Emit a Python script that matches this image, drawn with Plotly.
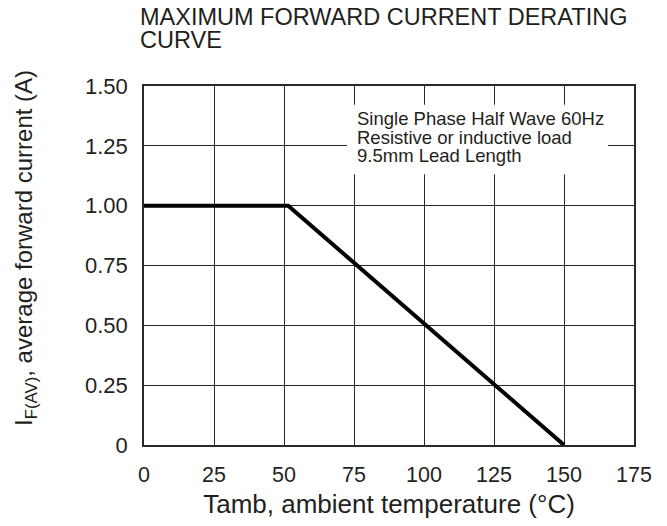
import plotly.graph_objects as go

# Data
temperature = [0, 51.5, 150]          # Tamb (°C)
current = [1.0, 1.0, 0.0]             # IF(AV) (A)
x_ticks = [0, 25, 50, 75, 100, 125, 150, 175]
x_tick_labels = ["0", "25", "50", "75", "100", "125", "150", "175"]
y_ticks = [0, 0.25, 0.5, 0.75, 1.0, 1.25, 1.5]
y_tick_labels = ["0", "0.25", "0.50", "0.75", "1.00", "1.25", "1.50"]
note_lines = ["Single Phase Half Wave 60Hz", "Resistive or inductive load", "9.5mm Lead Length"]
title_lines = ["MAXIMUM FORWARD CURRENT DERATING", "CURVE"]

TXT = "#231f20"
GRID = "#2a2a2a"
FONT = "Liberation Sans, Arial, Helvetica, sans-serif"

fig = go.Figure()
fig.add_trace(go.Scatter(x=temperature, y=current, mode="lines",
                         line=dict(color="black", width=4), hoverinfo="skip",
                         showlegend=False))

fig.update_layout(
    width=667, height=526,
    margin=dict(l=144, r=33, t=86, b=78),
    paper_bgcolor="white", plot_bgcolor="white",
    font=dict(family=FONT, color=TXT),
    showlegend=False,
)
fig.update_xaxes(range=[0, 175], tickvals=x_ticks, ticktext=x_tick_labels,
                 showgrid=True, gridcolor=GRID, gridwidth=1.3,
                 showline=True, mirror=True, linecolor=GRID, linewidth=1.5,
                 zeroline=False, ticks="", tickfont=dict(size=21.5, color=TXT),
                 ticklabelstandoff=9,
                 title=dict(text="Tamb, ambient temperature (°C)",
                            font=dict(size=26, color=TXT), standoff=9))
fig.update_yaxes(range=[0, 1.5], tickvals=y_ticks, ticktext=y_tick_labels,
                 showgrid=True, gridcolor=GRID, gridwidth=1.3,
                 showline=True, mirror=True, linecolor=GRID, linewidth=1.5,
                 zeroline=False, ticks="", tickfont=dict(size=22, color=TXT),
                 ticklabelstandoff=10)

# white box behind the note (covers gridlines)
fig.add_shape(type="rect", xref="x", yref="y", x0=72.5, x1=165.7, y0=1.131, y1=1.4215,
              fillcolor="white", line=dict(width=0), layer="between")

note_y = [1.3635, 1.285, 1.208]
for txt, yy in zip(note_lines, note_y):
    fig.add_annotation(x=75.2, y=yy, xref="x", yref="y", text=txt, showarrow=False,
                       xanchor="left", yanchor="middle",
                       font=dict(size=18.5, color=TXT, family=FONT))

title_y = [1.191, 1.127]
for txt, yy in zip(title_lines, title_y):
    fig.add_annotation(x=-0.012, y=yy, xref="paper", yref="paper", text=txt, showarrow=False,
                       xanchor="left", yanchor="middle",
                       font=dict(size=23.5, color=TXT, family=FONT))

# y-axis title
fig.add_annotation(x=-0.242, y=0.55, xref="paper", yref="paper",
                   text="I<sub>F(AV)</sub>, average forward current (A)",
                   textangle=-90, showarrow=False, xanchor="center", yanchor="middle",
                   font=dict(size=24, color=TXT, family=FONT))

fig.write_html("out.html")
